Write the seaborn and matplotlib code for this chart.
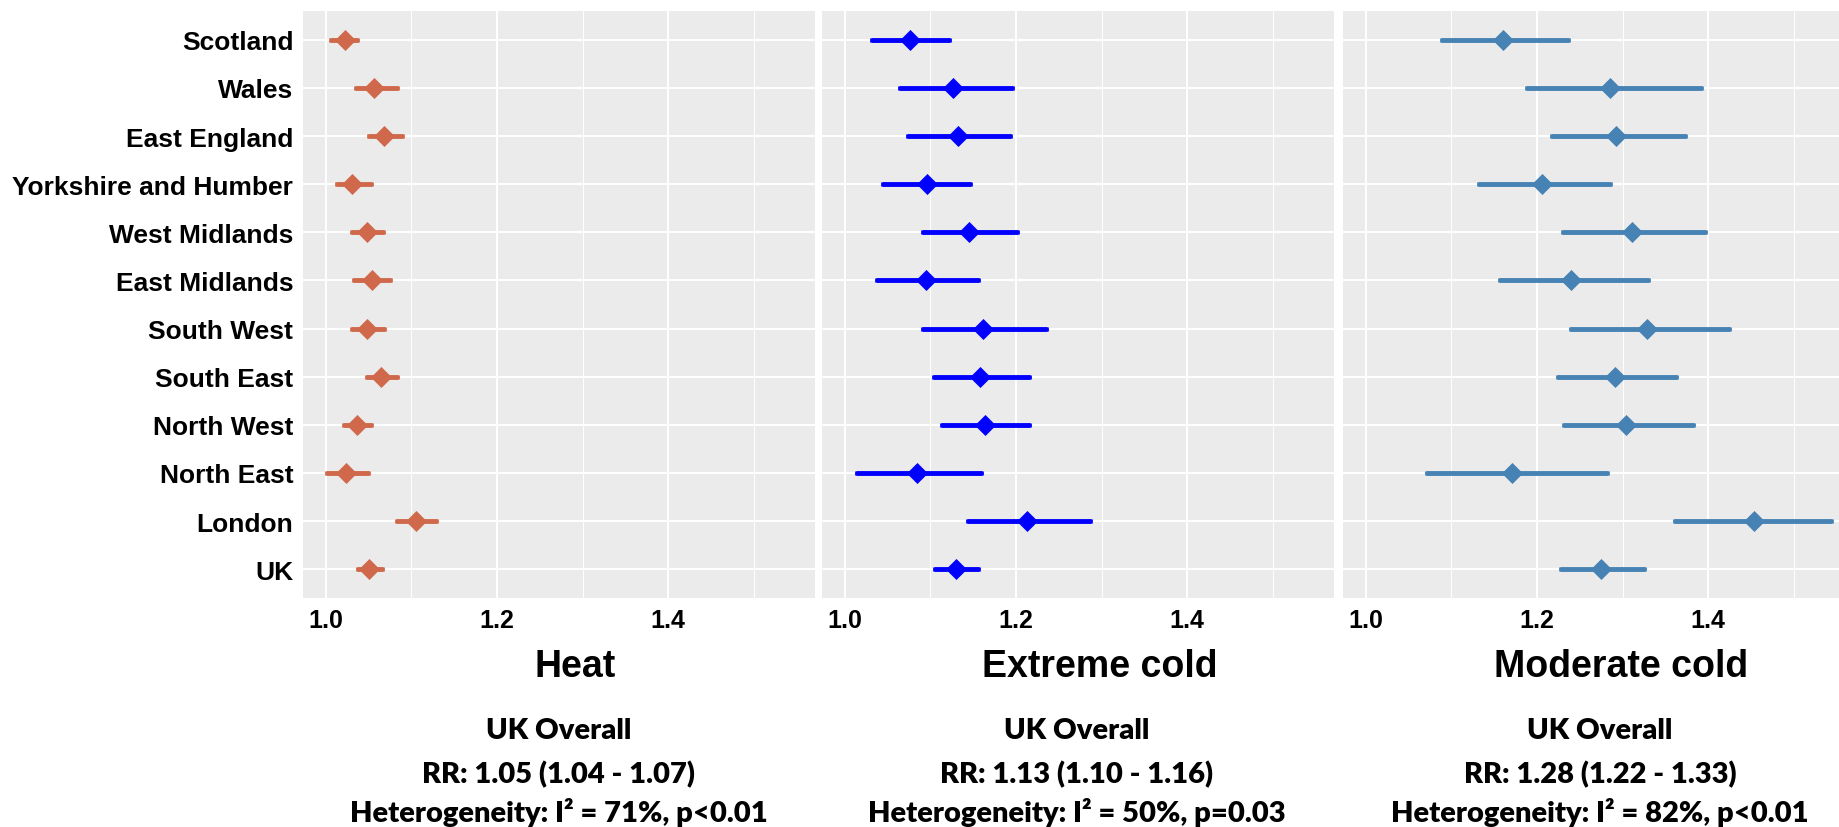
import matplotlib
matplotlib.use('Agg')
import matplotlib.pyplot as plt
import seaborn as sns
import pandas as pd

# regions, top to bottom
regions = ['Scotland', 'Wales', 'East England', 'Yorkshire and Humber', 'West Midlands',
           'East Midlands', 'South West', 'South East', 'North West', 'North East',
           'London', 'UK']

# relative risks with 95% CI
heat_rr = [1.022, 1.057, 1.068, 1.031, 1.048, 1.054, 1.048, 1.065, 1.037, 1.024, 1.106, 1.051]
heat_lo = [1.005, 1.034, 1.049, 1.012, 1.029, 1.032, 1.029, 1.047, 1.020, 1.000, 1.082, 1.036]
heat_hi = [1.038, 1.084, 1.090, 1.054, 1.068, 1.076, 1.069, 1.085, 1.054, 1.051, 1.130, 1.067]

xcold_rr = [1.076, 1.127, 1.132, 1.096, 1.145, 1.095, 1.161, 1.158, 1.164, 1.084, 1.213, 1.130]
xcold_lo = [1.031, 1.063, 1.073, 1.044, 1.090, 1.036, 1.090, 1.103, 1.113, 1.013, 1.143, 1.104]
xcold_hi = [1.123, 1.196, 1.194, 1.148, 1.202, 1.157, 1.236, 1.217, 1.216, 1.160, 1.288, 1.157]

mcold_rr = [1.160, 1.285, 1.292, 1.206, 1.311, 1.240, 1.329, 1.291, 1.304, 1.171, 1.453, 1.275]
mcold_lo = [1.088, 1.187, 1.217, 1.131, 1.229, 1.156, 1.239, 1.223, 1.230, 1.071, 1.360, 1.227]
mcold_hi = [1.237, 1.393, 1.374, 1.287, 1.398, 1.331, 1.426, 1.364, 1.383, 1.283, 1.545, 1.326]

titles = ['Heat', 'Extreme cold', 'Moderate cold']
colors = ['#D0694C', '#0000FF', '#4682B4']
overall = ['RR: 1.05 (1.04 - 1.07)', 'RR: 1.13 (1.10 - 1.16)', 'RR: 1.28 (1.22 - 1.33)']
hetero = ['Heterogeneity: I\u00b2 = 71%, p<0.01', 'Heterogeneity: I\u00b2 = 50%, p=0.03',
          'Heterogeneity: I\u00b2 = 82%, p<0.01']

sns.set_style('darkgrid', {'axes.facecolor': '#EBEBEB', 'grid.color': 'white'})
plt.rcParams['font.family'] = ['Liberation Sans', 'DejaVu Sans']
plt.rcParams['text.color'] = 'black'
plt.rcParams['xtick.color'] = '#333333'
plt.rcParams['ytick.color'] = '#333333'
plt.rcParams['xtick.labelcolor'] = 'black'
plt.rcParams['ytick.labelcolor'] = 'black'

W, H = 1840, 828
fig = plt.figure(figsize=(W / 100, H / 100), dpi=100)

panels = [(heat_rr, heat_lo, heat_hi), (xcold_rr, xcold_lo, xcold_hi), (mcold_rr, mcold_lo, mcold_hi)]
lefts = [303, 822, 1343]

for i, (rr, lo, hi) in enumerate(panels):
    df = pd.DataFrame({'region': regions, 'rr': rr, 'lo': lo, 'hi': hi})
    ax = fig.add_axes([lefts[i] / W, 229 / H, 512 / W, 587 / H])
    ax.set_axisbelow(True)
    # confidence intervals
    ax.errorbar(df['rr'], df['region'], xerr=[df['rr'] - df['lo'], df['hi'] - df['rr']],
                fmt='none', ecolor=colors[i], elinewidth=3.5, capsize=1.3, capthick=2, zorder=2)
    sns.scatterplot(data=df, x='rr', y='region', marker='D', s=115, color=colors[i],
                    linewidth=0, ax=ax, zorder=3)
    ax.set_xlim(0.9735, 1.5715)
    ax.set_ylim(len(regions) - 0.4, -0.6)
    ax.set_xticks([1.0, 1.2, 1.4])
    ax.set_xticklabels(['1.0', '1.2', '1.4'])
    ax.set_xticks([1.1, 1.3, 1.5], minor=True)
    ax.grid(which='major', color='white', linewidth=1.4)
    ax.grid(which='minor', axis='x', color='white', linewidth=0.7)
    ax.set_xlabel('')
    ax.set_ylabel('')
    for s in ax.spines.values():
        s.set_visible(False)
    ax.tick_params(axis='x', which='major', length=4, width=1, labelsize=18, pad=3)
    ax.tick_params(axis='x', which='minor', length=0)
    for lab in ax.get_xticklabels():
        lab.set_fontweight('bold')
    if i == 0:
        ax.tick_params(axis='y', length=4, width=1, labelsize=19, pad=3)
        for lab in ax.get_yticklabels():
            lab.set_fontweight('bold')
    else:
        ax.tick_params(axis='y', length=0, labelleft=False)

title_x = [575, 1100, 1621]
text_x = [559, 1077, 1600]
for i in range(3):
    fig.text(title_x[i] / W, 1 - 667 / H, titles[i], ha='center', va='center',
             fontsize=27, fontweight='bold')
    fig.text(text_x[i] / W, 1 - 731 / H, 'UK Overall', ha='center', va='center',
             fontsize=21, fontweight='heavy', family=['Lato', 'DejaVu Sans'])
    fig.text(text_x[i] / W, 1 - 775 / H, overall[i], ha='center', va='center',
             fontsize=21, fontweight='heavy', family=['Lato', 'DejaVu Sans'])
    fig.text(text_x[i] / W, 1 - 813 / H, hetero[i], ha='center', va='center',
             fontsize=21, fontweight='heavy', family=['Lato', 'DejaVu Sans'])

fig.savefig('out.png', dpi=100)
